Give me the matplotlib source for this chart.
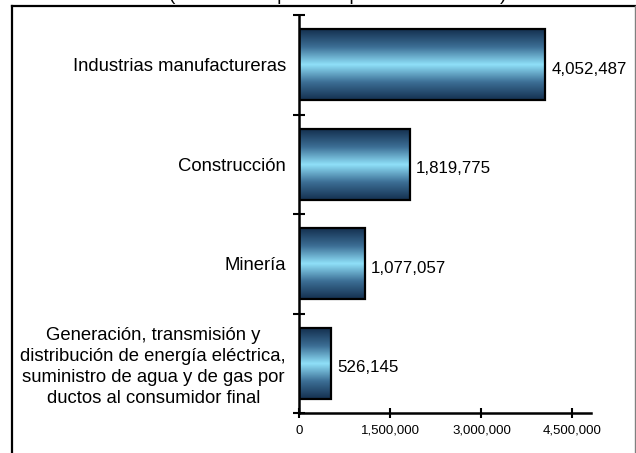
"""Valor de la produccion por sector (barras horizontales con degradado)."""
import numpy as np
import matplotlib
matplotlib.use('Agg')
from matplotlib import pyplot as plt
from matplotlib.colors import LinearSegmentedColormap
from matplotlib.lines import Line2D
from matplotlib.ticker import FuncFormatter

plt.rcParams['font.family'] = ['Liberation Sans', 'DejaVu Sans']

# de abajo hacia arriba
sectores = [
    'Generación, transmisión y\ndistribución de energía eléctrica,\n'
    'suministro de agua y de gas por\nductos al consumidor final',
    'Minería',
    'Construcción',
    'Industrias manufactureras',
]
valores = [526145, 1077057, 1819775, 4052487]
xticks = [0, 1500000, 3000000, 4500000]
titulo = '(Millones de pesos a precios corrientes)'

W, H = 636, 453
fig = plt.figure(figsize=(W / 100, H / 100), dpi=100)
ax = fig.add_axes([299.3 / W, 1 - 413 / H, (590.7 - 299.3) / W, (413 - 15) / H])

grad = LinearSegmentedColormap.from_list(
    'azul', ['#14304f', '#3c6e95', '#8fe0f8', '#3c6e95', '#14304f'])
g = np.linspace(0, 1, 256).reshape(-1, 1)
alto = 0.71

for i, v in enumerate(valores):
    ax.imshow(g, cmap=grad, aspect='auto', interpolation='bilinear',
              extent=(0, v, i - alto / 2, i + alto / 2), zorder=2)
    ax.barh(i, v, height=alto, facecolor='none', edgecolor='black',
            linewidth=1.6, zorder=3)
    # etiqueta un poco por debajo del centro, como en el original
    ax.annotate(f'{v:,}', (v, i), xytext=(4.5, -6.5), textcoords='offset points',
                va='baseline', ha='left', fontsize=12.2)

ax.set_xlim(0, 4.8e6)
ax.set_ylim(-0.5, len(valores) - 0.5)

ax.set_yticks(range(len(sectores)))
ax.set_yticklabels(sectores, fontsize=13.3, multialignment='center', linespacing=1.3)
ax.tick_params(axis='y', which='major', length=0, pad=9.5)
ax.set_yticks(np.arange(-0.5, len(sectores)), minor=True)
ax.tick_params(axis='y', which='minor', direction='inout', length=8, width=1.5)

ax.set_xticks(xticks)
ax.xaxis.set_major_formatter(FuncFormatter(lambda x, p: f'{int(x):,}'))
ax.tick_params(axis='x', direction='inout', length=7, width=1.5, labelsize=9.5, pad=5)

for s in ['top', 'right']:
    ax.spines[s].set_visible(False)
for s in ['left', 'bottom']:
    ax.spines[s].set_linewidth(1.8)

# marco de la figura
fig.add_artist(Line2D([12 / W, 12 / W], [0, 1 - 6 / H], color='black', lw=1.6))
fig.add_artist(Line2D([12 / W, 635 / W], [1 - 6 / H, 1 - 6 / H], color='black', lw=1.6))
fig.add_artist(Line2D([634.5 / W, 634.5 / W], [0, 1 - 6 / H], color='#808080', lw=1.0))

fig.text(337.5 / W, 1 - 0.5 / H, titulo, ha='center', va='baseline', fontsize=13.8)

fig.savefig('out.png', dpi=100)
